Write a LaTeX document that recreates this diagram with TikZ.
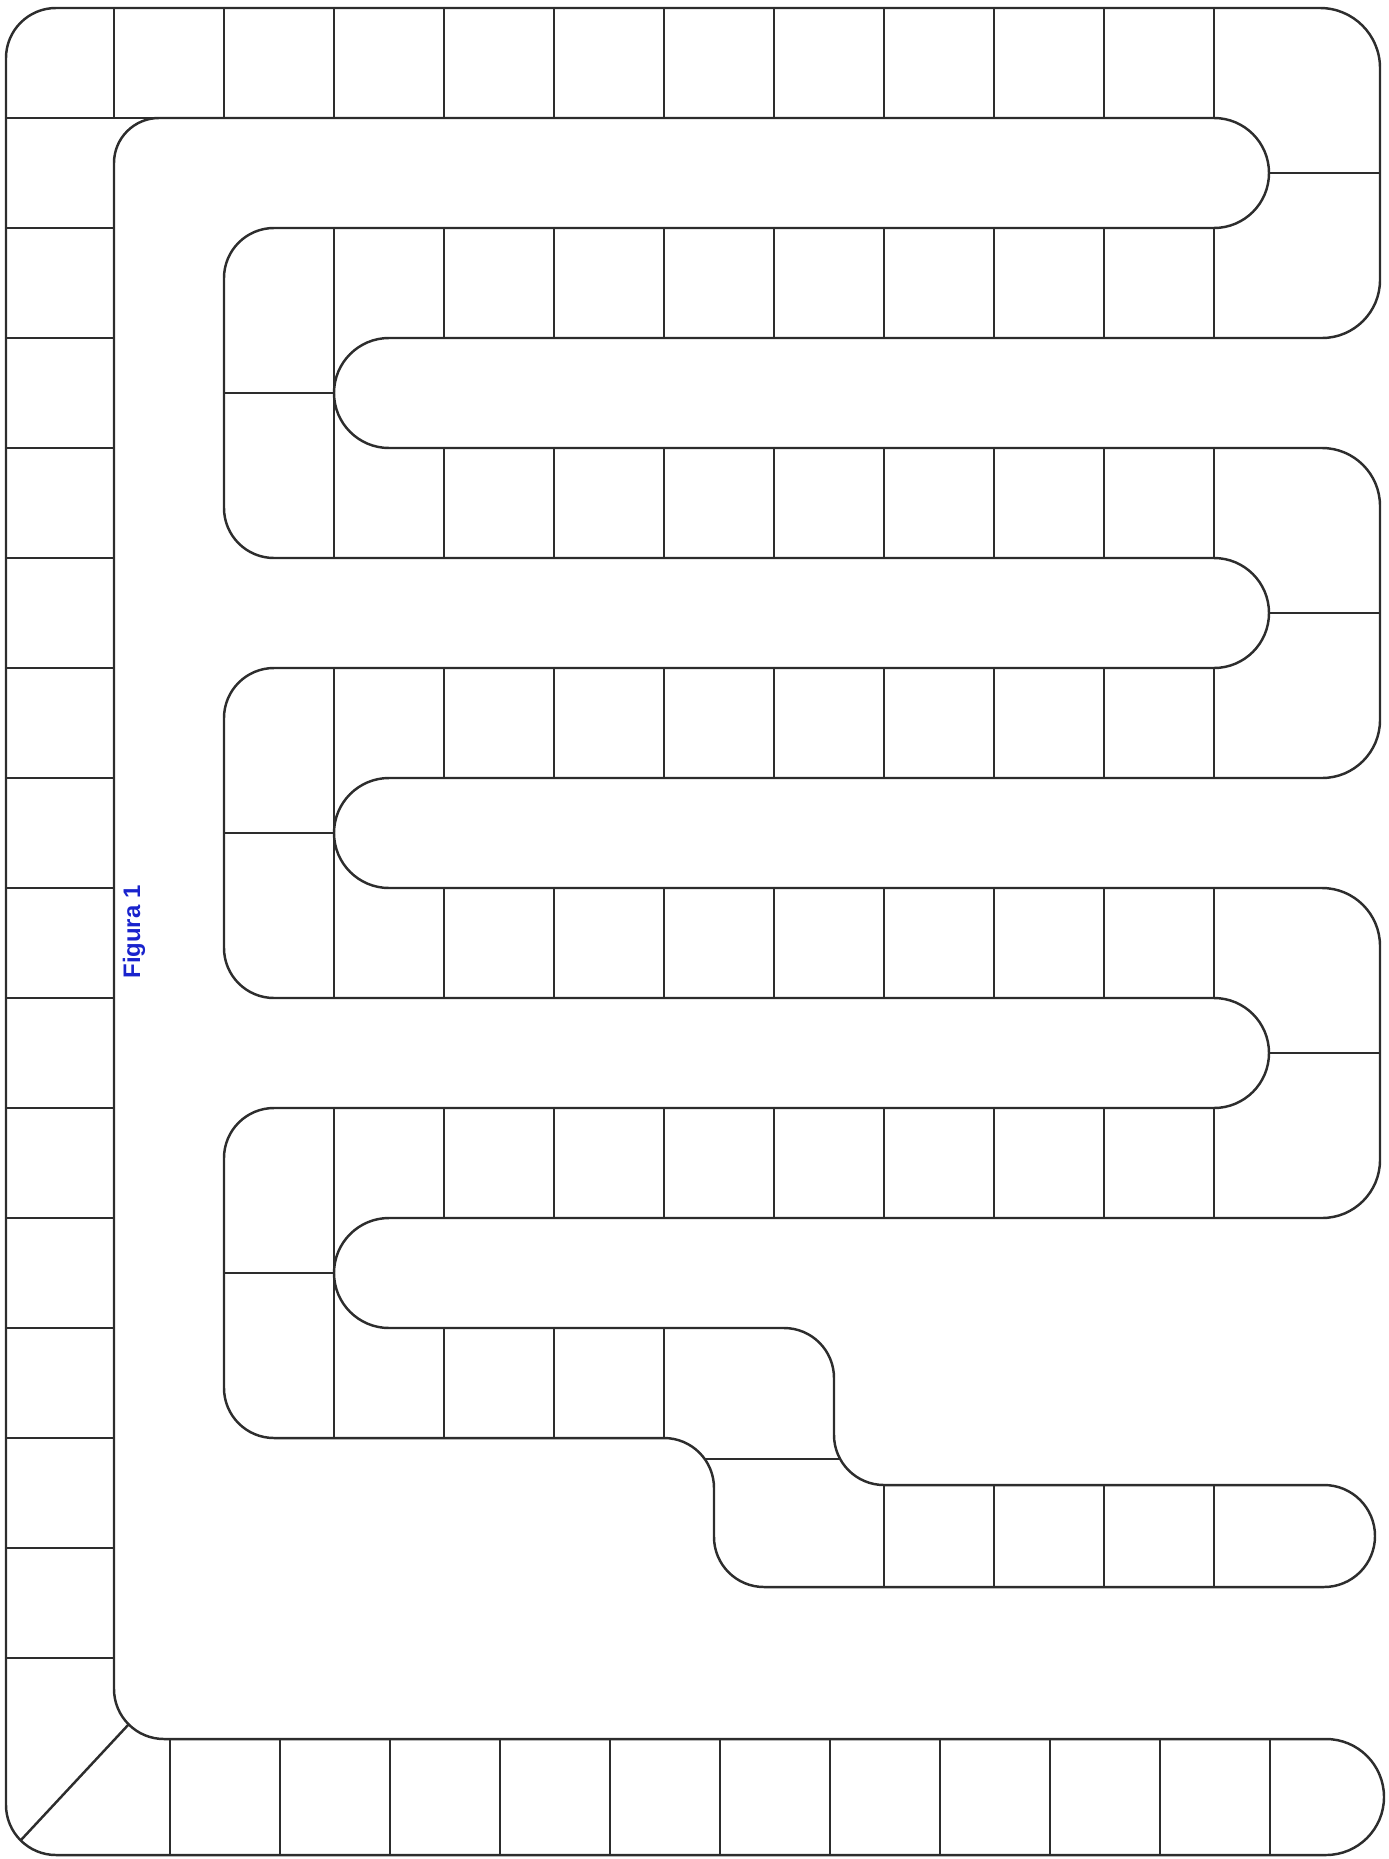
\documentclass[tikz,border=0pt]{standalone}
\usepackage{fontspec}
\usepackage{xcolor}
\usepackage{tikz}
\newfontfamily\figfont{Liberation Sans}
\definecolor{pencil}{RGB}{45,45,45}
\definecolor{figblue}{RGB}{25,35,205}

\begin{document}
\begin{tikzpicture}[
  track/.style={draw=pencil,line width=0.7pt,line join=round},
  divider/.style={draw=pencil,line width=0.7pt},
  caption/.style={font=\figfont\bfseries\fontsize{6.8}{8}\selectfont,text=figblue,rotate=90,inner sep=0pt}
]
  \useasboundingbox (0,0) rectangle (13.88,-18.59);
  \draw[track] (13.26,-17.39) -- (1.64,-17.39)
    arc[start angle=270,end angle=180,radius=0.5cm] -- (1.14,-1.63)
    arc[start angle=180,end angle=90,radius=0.45cm] -- (12.14,-1.18)
    arc[start angle=90,end angle=-90,radius=0.55cm] -- (2.74,-2.28)
    arc[start angle=90,end angle=180,radius=0.5cm] -- (2.24,-5.08)
    arc[start angle=180,end angle=270,radius=0.5cm] -- (12.14,-5.58)
    arc[start angle=90,end angle=-90,radius=0.55cm] -- (2.74,-6.68)
    arc[start angle=90,end angle=180,radius=0.5cm] -- (2.24,-9.48)
    arc[start angle=180,end angle=270,radius=0.5cm] -- (12.14,-9.98)
    arc[start angle=90,end angle=-90,radius=0.55cm] -- (2.74,-11.08)
    arc[start angle=90,end angle=180,radius=0.5cm] -- (2.24,-13.88)
    arc[start angle=180,end angle=270,radius=0.5cm] -- (6.64,-14.38)
    arc[start angle=90,end angle=0,radius=0.5cm] -- (7.14,-15.37)
    arc[start angle=180,end angle=270,radius=0.5cm] -- (13.24,-15.87)
    arc[start angle=-90,end angle=90,radius=0.51cm] -- (8.84,-14.85)
    arc[start angle=270,end angle=180,radius=0.5cm] -- (8.34,-13.78)
    arc[start angle=0,end angle=90,radius=0.5cm] -- (3.89,-13.28)
    arc[start angle=270,end angle=90,radius=0.55cm] -- (13.22,-12.18)
    arc[start angle=270,end angle=360,radius=0.58cm] -- (13.80,-9.46)
    arc[start angle=0,end angle=90,radius=0.58cm] -- (3.89,-8.88)
    arc[start angle=270,end angle=90,radius=0.55cm] -- (13.22,-7.78)
    arc[start angle=270,end angle=360,radius=0.58cm] -- (13.80,-5.06)
    arc[start angle=0,end angle=90,radius=0.58cm] -- (3.89,-4.48)
    arc[start angle=270,end angle=90,radius=0.55cm] -- (13.22,-3.38)
    arc[start angle=270,end angle=360,radius=0.58cm] -- (13.80,-0.68)
    arc[start angle=0,end angle=90,radius=0.6cm] -- (0.56,-0.08)
    arc[start angle=90,end angle=180,radius=0.5cm] -- (0.06,-18.05)
    arc[start angle=180,end angle=270,radius=0.5cm] -- (13.26,-18.55)
    arc[start angle=-90,end angle=90,radius=0.58cm] -- cycle;

  \foreach \i in {1,...,11}
    \draw[divider] ({0.04+1.1*\i},-0.08) -- ++(0,-1.1);
  \draw[divider] (0.06,-1.18) -- (1.59,-1.18);
  \foreach \j in {2,...,15}
    \draw[divider] (0.06,{-0.08-1.1*\j}) -- (1.14,{-0.08-1.1*\j});
  \foreach \k in {0,...,10}
    \draw[divider] ({1.70+1.1*\k},-17.39) -- ++(0,-1.16);
  \draw[divider] (1.29,-17.24) -- (0.21,-18.40);

  \foreach \t in {-2.28,-4.48,-6.68,-8.88,-11.08}
    \foreach \i in {4,...,11}
      \draw[divider] ({0.04+1.1*\i},\t) -- ++(0,-1.1);
  \foreach \i in {4,5,6}
    \draw[divider] ({0.04+1.1*\i},-13.28) -- ++(0,-1.1);
  \foreach \i in {8,...,11}
    \draw[divider] ({0.04+1.1*\i},-14.85) -- ++(0,-1.02);

  \foreach \t in {-2.28,-6.68,-11.08}
    \draw[divider] (3.34,\t) -- ++(0,-3.3);
  \foreach \m in {-3.93,-8.33,-12.73}
    \draw[divider] (2.24,\m) -- (3.34,\m);
  \foreach \m in {-1.73,-6.13,-10.53}
    \draw[divider] (12.69,\m) -- (13.80,\m);
  \draw[divider] (7.05,-14.59) -- (8.40,-14.59);

  \node[caption] (fig) at (1.34,-9.32) {Figura 1};
\end{tikzpicture}
\end{document}
